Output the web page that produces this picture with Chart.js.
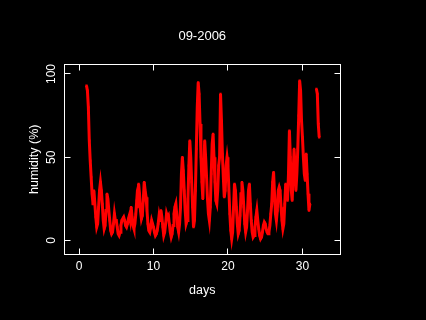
<!DOCTYPE html>
<html><head><meta charset="utf-8">
<script src="https://cdn.jsdelivr.net/npm/chart.js@4.4.1/dist/chart.umd.min.js"></script>
<style>html,body{margin:0;padding:0;background:#000;overflow:hidden}</style>
</head><body>
<canvas id="c" width="426" height="320"></canvas>
<script>
const chartTitle = "09-2006";
const xAxisLabel = "days";
const yAxisLabel = "humidity (%)";
const xTicks = [0, 10, 20, 30];
const yTicks = [0, 50, 100];
const sampleStep = 0.125; // days between readings
const segment1Start = 1.0;
const humidity1 = [
  93, 90, 80, 60, 48, 38, 28, 22,
  30, 22, 14, 8, 10, 20, 30, 35,
  30, 22, 12, 7, 9, 18, 28, 25,
  18, 12, 6, 4, 5, 10, 16, 12,
  12, 8, 4, 3, 5, 9, 12, 13,
  14, 12, 9, 8, 10, 13, 15, 12,
  20, 14, 9, 7, 10, 16, 24, 20,
  34, 28, 18, 13, 15, 24, 35, 30,
  26, 18, 10, 6, 5, 8, 12, 10,
  8, 5, 3, 4, 6, 10, 15, 12,
  18, 14, 8, 3, 5, 10, 16, 14,
  15, 10, 5, 2, 4, 9, 16, 20,
  22, 15, 8, 5, 10, 20, 40, 50,
  42, 30, 18, 10, 12, 25, 45, 60,
  50, 35, 20, 8, 12, 30, 55, 80,
  95, 88, 70, 50, 35, 25, 45, 60,
  50, 38, 25, 16, 12, 20, 40, 58,
  64, 50, 35, 24, 22, 30, 45, 50,
  88, 72, 52, 38, 26, 30, 45, 50,
  45, 30, 16, 6, 1, 5, 20, 34,
  30, 20, 10, 4, 6, 15, 28, 35,
  30, 20, 10, 5, 8, 18, 30, 34,
  22, 12, 5, 2, 3, 8, 14, 18,
  12, 7, 3, 1, 2, 5, 9, 11,
  10, 7, 5, 4, 5, 9, 16, 22,
  35, 41, 28, 16, 12, 18, 30, 32,
  30, 20, 12, 7, 10, 22, 34, 30,
  24, 40, 66, 50, 30, 24, 40, 55,
  45, 30, 40, 55, 75, 96, 90, 72,
  62, 50, 40, 36, 52, 40, 28, 18,
  22
];
const segment2Start = 31.875;
const humidity2 = [91, 88, 70, 62];

const points = [];
humidity1.forEach((v, i) => points.push({x: segment1Start + i * sampleStep, y: v}));
points.push({x: null, y: null});
humidity2.forEach((v, i) => points.push({x: segment2Start + i * sampleStep, y: v}));

const FONT = 'Liberation Sans';

const boxPlugin = {
  id: 'boxTicks',
  afterDatasetsDraw(chart) {
    const {ctx, chartArea: a, scales} = chart;
    const L = Math.floor(a.left) + 0.5, R = Math.floor(a.right) + 0.5;
    const T = Math.floor(a.top) + 0.5, B = Math.floor(a.bottom) + 0.5;
    const len = 6;
    ctx.save();
    ctx.strokeStyle = '#ffffff';
    ctx.lineWidth = 1;
    ctx.strokeRect(L, T, R - L, B - T);
    ctx.beginPath();
    xTicks.forEach(v => {
      const p = Math.floor(scales.x.getPixelForValue(v)) + 0.5;
      ctx.moveTo(p, B); ctx.lineTo(p, B - len);
      ctx.moveTo(p, T); ctx.lineTo(p, T + len);
    });
    yTicks.forEach(v => {
      const p = Math.floor(scales.y.getPixelForValue(v)) + 0.5;
      ctx.moveTo(L, p); ctx.lineTo(L + len, p);
      ctx.moveTo(R, p); ctx.lineTo(R - len, p);
    });
    ctx.stroke();
    ctx.restore();
  }
};

new Chart(document.getElementById('c'), {
  type: 'scatter',
  data: {
    datasets: [{
      data: points,
      showLine: true,
      spanGaps: false,
      borderColor: '#ff0000',
      backgroundColor: '#ff0000',
      borderWidth: 3,
      borderJoinStyle: 'miter',
      pointStyle: 'rect',
      pointRadius: 1.6,
      pointBorderWidth: 0,
      tension: 0
    }]
  },
  options: {
    responsive: false,
    devicePixelRatio: 1,
    animation: false,
    layout: {padding: {left: 0, right: 85.5, top: 0, bottom: 0}},
    plugins: {
      legend: {display: false},
      tooltip: {enabled: false},
      title: {
        display: true, text: chartTitle, color: '#ffffff', fullSize: false,
        font: {family: FONT, size: 13, weight: 'normal'},
        padding: {top: 28.2, bottom: 20.2}
      }
    },
    scales: {
      x: {
        type: 'linear', min: -2.02, max: 35.11,
        afterBuildTicks: s => { s.ticks = xTicks.map(v => ({value: v})); },
        afterFit: s => { s.height = 65.5; },
        grid: {display: false, drawTicks: false},
        border: {display: false},
        ticks: {color: '#ffffff', font: {family: FONT, size: 12}, padding: 4.5, maxRotation: 0, autoSkip: false},
        title: {display: true, text: xAxisLabel, color: '#ffffff', font: {family: FONT, size: 12.5}, padding: {top: 0, bottom: 22}}
      },
      y: {
        type: 'linear', min: -8.43, max: 106.0,
        afterBuildTicks: s => { s.ticks = yTicks.map(v => ({value: v})); },
        afterFit: s => { s.width = 64; },
        grid: {display: false, drawTicks: false},
        border: {display: false},
        ticks: {color: '#ffffff', font: {family: FONT, size: 12}, padding: 2.3, minRotation: 90, maxRotation: 90, crossAlign: 'center', autoSkip: false},
        title: {display: true, text: yAxisLabel, color: '#ffffff', font: {family: FONT, size: 12.5}, padding: {top: 27.5, bottom: 0}}
      }
    }
  },
  plugins: [boxPlugin]
});
</script>
</body></html>
